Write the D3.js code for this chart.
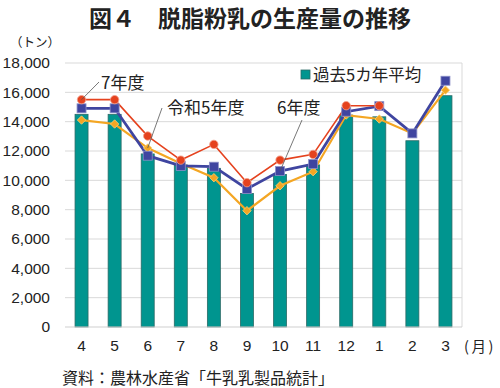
<!DOCTYPE html>
<html>
<head>
<meta charset="utf-8">
<script src="https://cdn.jsdelivr.net/npm/d3@7"></script>
<style>
  body { margin: 0; background: #fff; }
  svg text { font-family: "Liberation Sans", "Noto Sans CJK JP", sans-serif; fill: #222; }
</style>
</head>
<body>
<svg id="chart" width="500" height="388"></svg>
<script>
// months (fiscal year order)
var months = ["4", "5", "6", "7", "8", "9", "10", "11", "12", "1", "2", "3"];
// 過去5カ年平均 (bars)
var avg5 = [14500, 14500, 11800, 11050, 10820, 9100, 10400, 11050, 14450, 14330, 12700, 15770];
// 令和5年度 (orange)
var fy5 = [14110, 13840, 12200, 11150, 10180, 7930, 9630, 10590, 14450, 14180, 13200, 16150];
// 6年度 (blue)
var fy6 = [14910, 14910, 11680, 10980, 10930, 9410, 10630, 11110, 14680, 15060, 13200, 16790];
// 7年度 (red), only through January
var fy7 = [15500, 15500, 13020, 11380, 12450, 9840, 11380, 11770, 15090, 15090, null, null];
var yTicks = [0, 2000, 4000, 6000, 8000, 10000, 12000, 14000, 16000, 18000];

var svg = d3.select("#chart");
var pLeft = 65, pRight = 462, pTop = 63, pBottom = 327;

var x = d3.scaleBand().domain(months).range([pLeft, pRight]).paddingInner(0.6).paddingOuter(0.3);
var y = d3.scaleLinear().domain([0, 18000]).range([pBottom, pTop]);
var cjk = "'Noto Sans CJK JP', sans-serif";

// title
svg.append("text")
  .attr("x", 250).attr("y", 27)
  .attr("text-anchor", "middle")
  .style("font-family", cjk)
  .style("font-size", "23px").style("font-weight", "bold")
  .text("図４　脱脂粉乳の生産量の推移");

svg.append("text")
  .attr("x", 10).attr("y", 47)
  .style("font-family", cjk)
  .style("font-size", "12.5px")
  .text("（トン）");

// grid
svg.append("g").selectAll("line")
  .data(yTicks.filter(function(d){ return d > 0; }))
  .enter().append("line")
  .attr("x1", pLeft).attr("x2", pRight)
  .attr("y1", function(d){ return y(d); }).attr("y2", function(d){ return y(d); })
  .attr("stroke", "#d9d9d9").attr("stroke-width", 1);

// plot border right
svg.append("line").attr("x1", pRight).attr("x2", pRight).attr("y1", pTop).attr("y2", pBottom)
  .attr("stroke", "#d9d9d9");

// y axis labels
var yAxis = d3.axisLeft(y).tickValues(yTicks).tickSize(0).tickPadding(15)
  .tickFormat(d3.format(","));
var gy = svg.append("g").attr("transform", "translate(" + pLeft + ",0)").call(yAxis);
gy.select(".domain").remove();
gy.selectAll("text").style("font-size", "15.5px").attr("fill", "#222");

// bars
var bw = 13;
svg.append("g").selectAll("rect")
  .data(avg5)
  .enter().append("rect")
  .attr("x", function(d, i){ return x(months[i]) + x.bandwidth() / 2 - bw / 2; })
  .attr("y", function(d){ return y(d); })
  .attr("width", bw)
  .attr("height", function(d){ return y(0) - y(d); })
  .attr("fill", "#00958f")
  .attr("stroke", "#2b6a66").attr("stroke-width", 0.8);

// x axis
var xAxis = d3.axisBottom(x).tickSize(0).tickPadding(13);
var gx = svg.append("g").attr("transform", "translate(0," + pBottom + ")").call(xAxis);
gx.select(".domain").attr("stroke", "#cfcfcf").attr("d", "M" + pLeft + ",0H" + pRight);
gx.selectAll("text").style("font-size", "15.5px").attr("fill", "#222");

svg.append("text")
  .attr("x", 464).attr("y", 352)
  .style("font-family", cjk)
  .style("font-size", "14.5px")
  .style("letter-spacing", "2.5px")
  .text("(月)");

function cx(i){ return x(months[i]) + x.bandwidth() / 2; }

var line = d3.line()
  .defined(function(d){ return d != null; })
  .x(function(d, i){ return cx(i); })
  .y(function(d){ return y(d); });

// orange - 令和5年度
svg.append("path").datum(fy5).attr("d", line)
  .attr("fill", "none").attr("stroke", "#f4a623").attr("stroke-width", 2.2);
// blue - 6年度
svg.append("path").datum(fy6).attr("d", line)
  .attr("fill", "none").attr("stroke", "#3f45a0").attr("stroke-width", 2.8);
// red - 7年度
svg.append("path").datum(fy7).attr("d", line)
  .attr("fill", "none").attr("stroke", "#e5421e").attr("stroke-width", 1.6);

// markers
svg.append("g").selectAll("path")
  .data(fy5).enter().append("path")
  .attr("d", d3.symbol().type(d3.symbolDiamond2).size(45))
  .attr("transform", function(d, i){ return "translate(" + cx(i) + "," + y(d) + ")"; })
  .attr("fill", "#f4a623").attr("stroke", "#f9d27a").attr("stroke-width", 0.8);

svg.append("g").selectAll("rect")
  .data(fy6).enter().append("rect")
  .attr("x", function(d, i){ return cx(i) - 4.5; })
  .attr("y", function(d){ return y(d) - 4.5; })
  .attr("width", 9).attr("height", 9)
  .attr("fill", "#3f45a0").attr("stroke", "#8c90c8").attr("stroke-width", 0.8);

svg.append("g").selectAll("circle")
  .data(fy7.filter(function(d){ return d != null; })).enter().append("circle")
  .attr("cx", function(d, i){ return cx(i); })
  .attr("cy", function(d){ return y(d); })
  .attr("r", 4.2)
  .attr("fill", "#e5421e").attr("stroke", "#f3a08c").attr("stroke-width", 0.8);

// annotations
function note(txt, tx, ty, lx1, ly1, i, v) {
  svg.append("line")
    .attr("x1", lx1).attr("y1", ly1)
    .attr("x2", cx(i)).attr("y2", y(v))
    .attr("stroke", "#555").attr("stroke-width", 0.8);
  svg.append("text").attr("x", tx).attr("y", ty)
    .style("font-family", cjk).style("font-size", "17px")
    .text(txt);
}
note("7年度", 101, 89, 99, 82, 0, fy7[0]);
note("令和5年度", 167, 114, 162, 108, 2, fy5[2]);
note("6年度", 277, 114, 302, 120, 6, fy6[6]);

// legend
svg.append("rect").attr("x", 301).attr("y", 70).attr("width", 9).attr("height", 9)
  .attr("fill", "#00958f").attr("stroke", "#2b6a66").attr("stroke-width", 0.8);
svg.append("text").attr("x", 313).attr("y", 81)
  .style("font-family", cjk).style("font-size", "16.5px")
  .text("過去5カ年平均");

// source
svg.append("text").attr("x", 62).attr("y", 384)
  .style("font-family", cjk).style("font-size", "16px")
  .text("資料：農林水産省「牛乳乳製品統計」");
</script>
</body>
</html>
